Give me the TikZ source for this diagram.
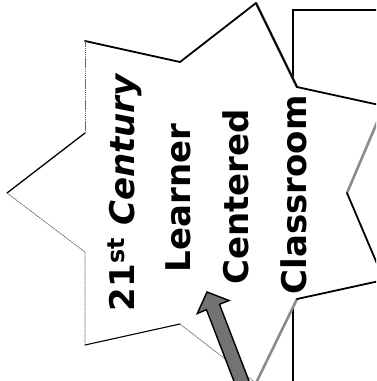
\documentclass[tikz,border=0pt]{standalone}
\usepackage{fontspec}
\setmainfont{DejaVu Sans}
\tikzset{
  darkedge/.style={draw=black, line width=1.8pt, line cap=round},
  shadowedge/.style={draw=black!45, line width=2.6pt, line cap=round},
  thinedge/.style={draw=black!60, line width=0.7pt, dash pattern=on 1.5pt off 0.6pt},
  lbl/.style={rotate=90, anchor=base, inner sep=0pt, font=\fontsize{34}{40}\selectfont\bfseries},
  boxline/.style={draw=black, line width=1.6pt},
  arrowbody/.style={fill=black!55, draw=black, line width=1.4pt, line join=miter}
}
\begin{document}
\begin{tikzpicture}[x=1pt,y=-1pt]
\useasboundingbox (0,0) rectangle (376,381);
\clip (0,0) rectangle (376,381);
\fill[white] (0,0) rectangle (376,381);
% background frame (behind the star)
\draw[boxline] (293,420) -- (293,10) -- (420,10);
% star outline points
\coordinate (o1) at (85,41);
\coordinate (i1) at (180,62);
\coordinate (o2) at (256,3);
\coordinate (i2) at (297,87);
\coordinate (o3) at (384,106);
\coordinate (i3) at (347,193);
\coordinate (o4) at (384,280);
\coordinate (i4) at (297,299);
\coordinate (o5) at (256,383);
\coordinate (i5) at (180,324);
\coordinate (o6) at (85,345);
\coordinate (i6) at (85,252);
\coordinate (o7) at (7,193);
\coordinate (i7) at (85,133);
\fill[white] (o1) -- (i1) -- (o2) -- (i2) -- (o3) -- (i3) -- (o4) -- (i4) -- (o5) -- (i5) -- (o6) -- (i6) -- (o7) -- (i7) -- cycle;
% star edges
\draw[shadowedge] (o2) -- (i2);
\draw[shadowedge] (o3) -- (i3);
\draw[shadowedge] (i4) -- (o5);
\draw[darkedge] (o1) -- (i1) -- (o2);
\draw[darkedge] (o2) -- (i2) -- (o3);
\draw[darkedge] (i3) -- (o4) -- (i4);
\draw[darkedge, line width=1.1pt] (i5) -- (o6);
\draw[darkedge, line width=1.3pt] (o7) -- (i7);
\draw[thinedge] (i7) -- (o1);
\draw[thinedge] (o6) -- (i6) -- (o7);
\draw[thinedge] (o5) -- (i5);
% arrow
\coordinate (tip) at (207,292);
\draw[arrowbody] (tip) -- (229,300.5) -- (219.5,304.3) -- (254,394) -- (241,399.5) -- (206.5,309.7) -- (197.3,313.5) -- cycle;
% text
\node[lbl] (l1) at (134,192) {21\textsuperscript{st} \textit{Century}};
\node[lbl] (l2) at (190,198) {Learner};
\node[lbl] (l3) at (248,197) {Centered};
\node[lbl] (l4) at (306,195) {Classroom};
\end{tikzpicture}
\end{document}
